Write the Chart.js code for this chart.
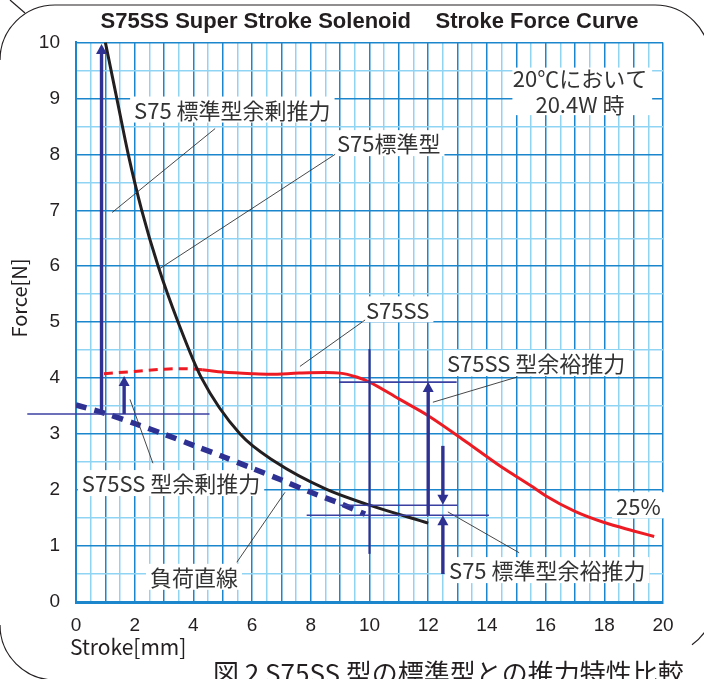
<!DOCTYPE html>
<html><head><meta charset="utf-8">
<script src="https://cdn.jsdelivr.net/npm/chart.js@4.4.0/dist/chart.umd.min.js"></script>
<style>html,body{margin:0;padding:0;background:#fff;overflow:hidden}#wrap{position:relative;width:704px;height:679px}</style>
</head><body><div id="wrap"><canvas id="c" width="704" height="679"></canvas></div>
<script>
// ---- data ----
const xTickLabels = ['0','2','4','6','8','10','12','14','16','18','20'];
const yTickLabels = ['0','1','2','3','4','5','6','7','8','9','10'];
const stdStroke = [1.0, 1.39, 1.78, 2.24, 2.8, 3.48, 4.28, 5.59, 6.8, 8.5, 10, 12];
const stdForce  = [10, 9, 8, 7, 6, 5, 4, 3, 2.5, 2.02, 1.73, 1.41];
const ssStroke = [0.95, 2, 3, 3.6, 4.3, 5, 6, 6.6, 7.6, 8.5, 9.0, 9.56, 10, 11, 12, 13.3, 14.45, 15.58, 16, 17, 18, 19, 19.7];
const ssForce  = [4.08, 4.12, 4.16, 4.17, 4.15, 4.11, 4.08, 4.07, 4.09, 4.1, 4.09, 4.02, 3.93, 3.63, 3.33, 2.86, 2.43, 2.05, 1.9, 1.62, 1.42, 1.27, 1.17];
const loadStroke = [0, 1, 2, 3, 4, 5, 6, 7, 8, 9, 9.85];
const loadForce  = [3.52, 3.37, 3.19, 3.0, 2.8, 2.6, 2.39, 2.18, 1.96, 1.76, 1.57];
// reference lines & arrows (stroke, force)
const guideLines = [[-1.66,3.36,4.55,3.36],[8.96,3.93,12.97,3.93],[9.0,1.73,13.0,1.73],[7.86,1.55,14.07,1.55]];
const guideVLines = [[10,4.52,10,0.86]];
const forceArrows = [[0.87,3.36,0.87,9.97],[1.64,3.36,1.64,4.04],[12,1.55,12,3.93],[12.5,2.79,12.5,1.74],[12.5,0.5,12.5,1.55]];
const leaderLines = [[1.23,6.96,4.74,8.46],[2.86,5.96,8.83,8.0],[7.63,4.21,9.85,5.04],[12.16,3.57,15.03,4.02],[1.84,3.62,2.62,2.48],[5.48,0.71,7.12,1.96],[12.67,1.61,15.1,0.88]];
const labelTexts = ['S75 標準型余剰推力','S75標準型','S75SS','S75SS 型余裕推力','S75SS 型余剰推力','負荷直線','S75 標準型余裕推力','25%'];
const labelPos = [[1.98,8.80],[8.89,8.20],[9.88,5.23],[12.64,4.27],[0.2,2.125],[2.52,0.45],[12.71,0.57],[18.4,1.73]];
const noteTexts = ['20℃において','20.4W 時'];
const notePos = [[17.17,9.37],[17.17,8.9]];

const LBL_FONT = '22px "Noto Sans CJK JP"';
const NAVY = '#2e3192';

function P(chart, x, y){ return [chart.scales.x.getPixelForValue(x), chart.scales.y.getPixelForValue(y)]; }

const overlay = {
  id: 'overlay',
  beforeDatasetsDraw(chart){
    const ctx = chart.ctx;
    ctx.save();
    ctx.font = LBL_FONT;
    ctx.textBaseline = 'middle';
    labelTexts.forEach((t,i)=>{
      const [px,py] = P(chart, labelPos[i][0], labelPos[i][1]);
      const w = ctx.measureText(t).width;
      ctx.fillStyle = '#fff';
      ctx.fillRect(px-4, py-13, w+8, 26);
      ctx.fillStyle = '#333';
      ctx.textAlign = 'left';
      ctx.fillText(t, px, py+1);
    });
    // note box
    const [bx1,by1] = P(chart, 14.87, 9.55);
    const [bx2,by2] = P(chart, 19.63, 8.70);
    ctx.fillStyle = '#fff';
    ctx.fillRect(bx1, by1, bx2-bx1, by2-by1);
    ctx.fillStyle = '#333';
    ctx.textAlign = 'center';
    noteTexts.forEach((t,i)=>{
      const [px,py] = P(chart, notePos[i][0], notePos[i][1]);
      ctx.fillText(t, px, py+1);
    });
    ctx.restore();
  },
  afterDatasetsDraw(chart){
    const ctx = chart.ctx;
    ctx.save();
    // leader lines
    ctx.strokeStyle = '#333'; ctx.lineWidth = 0.9;
    leaderLines.forEach(l=>{
      const [a,b] = P(chart,l[0],l[1]); const [c,d] = P(chart,l[2],l[3]);
      ctx.beginPath(); ctx.moveTo(a,b); ctx.lineTo(c,d); ctx.stroke();
    });
    // thin guide lines
    ctx.strokeStyle = '#3a40a0'; ctx.lineWidth = 1.6;
    guideLines.forEach(l=>{
      const [a,b] = P(chart,l[0],l[1]); const [c,d] = P(chart,l[2],l[3]);
      ctx.beginPath(); ctx.moveTo(a,b); ctx.lineTo(c,d); ctx.stroke();
    });
    ctx.strokeStyle = NAVY; ctx.lineWidth = 2.2;
    guideVLines.forEach(l=>{
      const [a,b] = P(chart,l[0],l[1]); const [c,d] = P(chart,l[2],l[3]);
      ctx.beginPath(); ctx.moveTo(a,b); ctx.lineTo(c,d); ctx.stroke();
    });
    // arrows
    forceArrows.forEach(l=>{
      const [a,b] = P(chart,l[0],l[1]); const [c,d] = P(chart,l[2],l[3]);
      const dir = d < b ? -1 : 1; const hl = 10, hw = 5.5;
      ctx.strokeStyle = NAVY; ctx.fillStyle = NAVY; ctx.lineWidth = 3.4;
      ctx.beginPath(); ctx.moveTo(a,b); ctx.lineTo(c, d - dir*hl*0.8); ctx.stroke();
      ctx.beginPath(); ctx.moveTo(c,d); ctx.lineTo(c-hw, d-dir*hl); ctx.lineTo(c+hw, d-dir*hl); ctx.closePath(); ctx.fill();
    });
    ctx.restore();
  },
  afterDraw(chart){
    const ctx = chart.ctx;
    ctx.save();
    // axis titles
    ctx.fillStyle = '#231f20';
    ctx.font = '21px "Noto Sans CJK JP"';
    ctx.textBaseline = 'middle';
    ctx.textAlign = 'left';
    ctx.fillText('Stroke[mm]', 70, 647);
    ctx.save();
    ctx.translate(19, 298); ctx.rotate(-Math.PI/2);
    ctx.textAlign = 'center';
    ctx.font = '20px "Noto Sans CJK JP"';
    ctx.fillText('Force[N]', 0, 0);
    ctx.restore();
    // caption (cut off at the bottom edge)
    ctx.font = '26px "Noto Sans CJK JP"';
    ctx.textAlign = 'left'; ctx.textBaseline = 'alphabetic';
    ctx.fillText('図 2 S75SS 型の標準型との推力特性比較', 213, 683);
    // decorative frame
    ctx.strokeStyle = '#231f20'; ctx.lineWidth = 1.2;
    ctx.beginPath();
    ctx.arc(55, 60, 55, Math.PI, 1.5*Math.PI);
    ctx.lineTo(655, 5);
    ctx.arc(655, 60, 55, 1.5*Math.PI, 2*Math.PI);
    ctx.stroke();
    ctx.beginPath(); ctx.moveTo(10,0); ctx.lineTo(25,13); ctx.stroke();
    ctx.beginPath(); ctx.arc(55, 625, 55, Math.PI, 0.5*Math.PI, true); ctx.stroke();
    ctx.beginPath(); ctx.arc(660, 600, 55, 0.55, 0.95); ctx.stroke();
    ctx.restore();
  }
};

const MAJOR = '#1b86cc', MINOR = '#8fd4f3';
function gridColor(c){ return Math.abs(c.tick.value - Math.round(c.tick.value)) < 1e-6 ? MAJOR : MINOR; }
const TICK_FONT = { family: '"Liberation Sans", Arial, sans-serif', size: 19 };

new Chart(document.getElementById('c'), {
  type: 'line',
  data: {
    datasets: [
      { label: 'S75標準型', data: stdStroke.map((x,i)=>({x, y: stdForce[i]})), borderColor: '#231f20', borderWidth: 3, pointRadius: 0, cubicInterpolationMode: 'monotone', fill: false },
      { label: 'S75SS', data: ssStroke.map((x,i)=>({x, y: ssForce[i]})), borderColor: '#ed1c24', borderWidth: 3, pointRadius: 0, cubicInterpolationMode: 'monotone', fill: false,
        segment: { borderDash: c => c.p1.parsed.x <= 4.31 ? [9,6] : undefined } },
      { label: '負荷直線', data: loadStroke.map((x,i)=>({x, y: loadForce[i]})), borderColor: NAVY, borderWidth: 5.5, borderDash: [11,8], pointRadius: 0, tension: 0.3, fill: false }
    ]
  },
  options: {
    responsive: false, animation: false, devicePixelRatio: 1,
    layout: { padding: { left: 0, right: 41, top: 0, bottom: 0 } },
    plugins: {
      legend: { display: false }, tooltip: { enabled: false },
      title: { display: true, fullSize: false, text: 'S75SS Super Stroke Solenoid    Stroke Force Curve', color: '#231f20',
        font: { family: '"Liberation Sans", Arial, sans-serif', size: 22, weight: 'bold' }, padding: { top: 9, bottom: 7 } }
    },
    scales: {
      x: { type: 'linear', min: 0, max: 20,
        afterFit: s => { s.height = 77; },
        border: { display: true, color: MAJOR, width: 3 },
        grid: { color: gridColor, lineWidth: 1.5, drawTicks: false },
        ticks: { stepSize: 0.5, autoSkip: false, maxRotation: 0, padding: 12, color: '#231f20', font: TICK_FONT,
          callback: v => (Math.abs(v % 2) < 1e-6 ? xTickLabels[Math.round(v/2)] : '') } },
      y: { type: 'linear', min: 0, max: 10,
        afterFit: s => { s.width = 76; },
        border: { display: true, color: MAJOR, width: 2 },
        grid: { color: gridColor, lineWidth: 1.5, drawTicks: false },
        ticks: { stepSize: 0.5, autoSkip: false, padding: 16, color: '#231f20', font: TICK_FONT,
          callback: v => (Math.abs(v % 1) < 1e-6 ? yTickLabels[Math.round(v)] : '') } }
    }
  },
  plugins: [overlay]
});
</script></body></html>
